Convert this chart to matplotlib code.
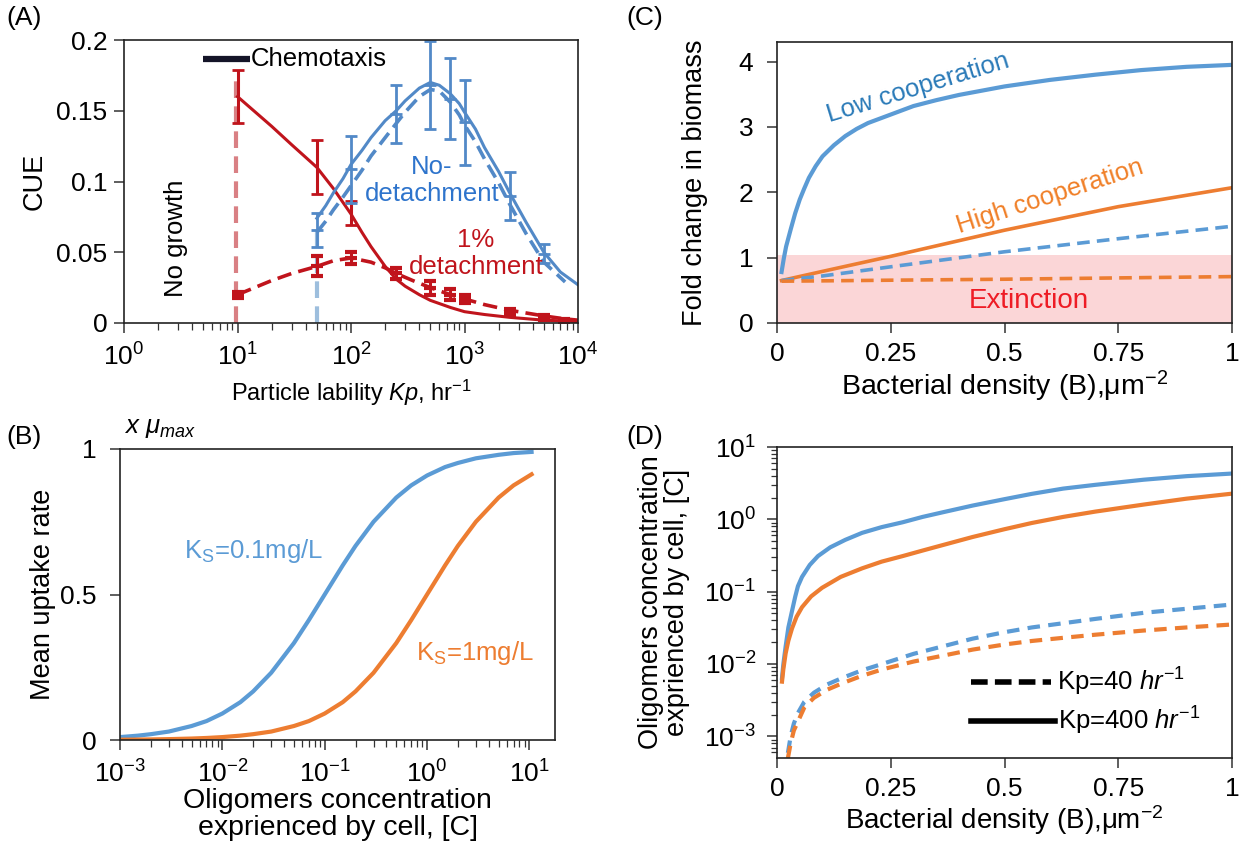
import matplotlib
matplotlib.use('Agg')
import numpy as np
import matplotlib.pyplot as plt
from matplotlib.ticker import LogLocator, NullFormatter

plt.rcParams['font.family'] = ['Liberation Sans', 'DejaVu Sans']
plt.rcParams['mathtext.fontset'] = 'custom'
plt.rcParams['mathtext.rm'] = 'Liberation Sans'
plt.rcParams['mathtext.it'] = 'Liberation Sans:italic'
plt.rcParams['mathtext.bf'] = 'Liberation Sans:bold'

# ---- panel A: CUE vs particle lability
kp_red = [10, 20, 30, 50, 70, 100, 125, 150, 200, 250, 300, 400, 500, 750, 1000, 1500, 2500, 5000, 10000]
red_solid = [0.160, 0.139, 0.126, 0.110, 0.095, 0.077, 0.064, 0.054, 0.040, 0.031, 0.026, 0.020, 0.016, 0.011,
             0.008, 0.006, 0.004, 0.002, 0.001]
kp_red_dash = [10, 20, 30, 50, 70, 100, 150, 200, 250, 350, 500, 750, 1000, 1500, 2500, 5000, 7500, 10000]
red_dash = [0.020, 0.030, 0.035, 0.040, 0.044, 0.046, 0.043, 0.039, 0.035, 0.030, 0.025, 0.020, 0.017, 0.013,
            0.009, 0.005, 0.003, 0.002]
kp_blue = [50, 60, 70, 85, 100, 125, 150, 200, 250, 300, 400, 500, 600, 750, 900, 1000, 1250, 1500, 2000, 2500,
           3500, 5000, 7000, 10000]
blue_solid = [0.074, 0.083, 0.092, 0.102, 0.112, 0.122, 0.131, 0.143, 0.150, 0.157, 0.166, 0.170, 0.168, 0.162,
              0.155, 0.149, 0.137, 0.124, 0.107, 0.092, 0.071, 0.050, 0.036, 0.027]
kp_blue_dash = [50, 60, 70, 85, 100, 125, 150, 200, 250, 300, 400, 500, 600, 750, 900, 1000, 1250, 1500, 2000,
                2500, 3500, 5000, 7700]
blue_dash = [0.064, 0.072, 0.080, 0.089, 0.097, 0.108, 0.118, 0.131, 0.141, 0.149, 0.160, 0.165, 0.164, 0.156,
             0.147, 0.140, 0.128, 0.116, 0.099, 0.084, 0.063, 0.043, 0.029]

kp_err_red = [10, 50, 100]
red_err_mid = [0.160, 0.110, 0.078]
red_err = [0.019, 0.019, 0.0085]
kp_err_red_d = [10, 50, 100, 250, 500, 750, 1000, 2500, 5000, 7500]
red_d_mid = [0.020, 0.040, 0.046, 0.035, 0.025, 0.020, 0.017, 0.008, 0.004, 0.002]
red_d_err = [0.002, 0.007, 0.004, 0.004, 0.005, 0.004, 0.003, 0.002, 0.002, 0.001]
kp_err_blue = [50, 100, 250, 500, 750, 1000, 2500, 5000]
blue_err_mid = [0.066, 0.1085, 0.1475, 0.168, 0.1585, 0.142, 0.090, 0.049]
blue_err = [0.012, 0.0235, 0.0205, 0.031, 0.0285, 0.030, 0.017, 0.0065]

# ---- panel B: uptake vs oligomer concentration
conc = [1e-3, 1.5e-3, 2e-3, 3e-3, 5e-3, 7e-3, 1e-2, 1.5e-2, 2e-2, 3e-2, 5e-2, 7e-2, 0.1, 0.15, 0.2, 0.3, 0.5,
        0.7, 1, 1.5, 2, 3, 5, 7, 10.5]
uptake_ks01 = [0.010, 0.015, 0.020, 0.029, 0.048, 0.065, 0.091, 0.130, 0.167, 0.231, 0.333, 0.412, 0.500, 0.600,
               0.667, 0.750, 0.833, 0.875, 0.909, 0.938, 0.952, 0.968, 0.980, 0.986, 0.990]
uptake_ks1 = [0.001, 0.0015, 0.002, 0.003, 0.005, 0.007, 0.010, 0.015, 0.020, 0.029, 0.048, 0.065, 0.091, 0.130,
              0.167, 0.231, 0.333, 0.412, 0.500, 0.600, 0.667, 0.750, 0.833, 0.875, 0.913]

# ---- panel C: fold change in biomass
dens_low = [0.01, 0.015, 0.02, 0.03, 0.04, 0.05, 0.06, 0.07, 0.085, 0.1, 0.125, 0.15, 0.175, 0.2, 0.25, 0.3,
            0.35, 0.4, 0.5, 0.6, 0.7, 0.8, 0.9, 1.0]
low_coop = [0.78, 0.99, 1.17, 1.43, 1.68, 1.89, 2.06, 2.22, 2.40, 2.55, 2.72, 2.86, 2.97, 3.06, 3.19, 3.32, 3.41,
            3.49, 3.62, 3.72, 3.80, 3.87, 3.92, 3.95]
dens_c = [0.01, 0.1, 0.25, 0.5, 0.75, 1.0]
high_coop = [0.65, 0.79, 1.02, 1.42, 1.78, 2.07]
low_coop_dash = [0.65, 0.72, 0.86, 1.09, 1.29, 1.48]
high_coop_dash = [0.64, 0.645, 0.655, 0.67, 0.69, 0.71]

# ---- panel D: oligomer concentration vs density
dens_d_blue = [0.011, 0.014, 0.019, 0.025, 0.033, 0.04, 0.046, 0.055, 0.072, 0.09, 0.117, 0.15, 0.187, 0.23,
               0.276, 0.32, 0.364, 0.43, 0.5, 0.56, 0.629, 0.7, 0.806, 0.9, 0.996]
conc_blue_400 = [0.0064, 0.010, 0.0175, 0.032, 0.054, 0.085, 0.119, 0.16, 0.234, 0.31, 0.41, 0.52, 0.65, 0.78,
                 0.91, 1.08, 1.25, 1.55, 1.90, 2.25, 2.66, 3.0, 3.53, 3.95, 4.28]
dens_d_orange = [0.011, 0.014, 0.019, 0.025, 0.033, 0.043, 0.055, 0.075, 0.099, 0.14, 0.187, 0.23, 0.276, 0.32,
                 0.364, 0.43, 0.5, 0.56, 0.629, 0.7, 0.806, 0.9, 0.996]
conc_orange_400 = [0.0057, 0.0085, 0.014, 0.021, 0.031, 0.045, 0.061, 0.086, 0.113, 0.16, 0.21, 0.26, 0.31, 0.37,
                   0.44, 0.57, 0.73, 0.89, 1.08, 1.28, 1.60, 1.93, 2.25]
dens_d_dash = [0.024, 0.03, 0.037, 0.046, 0.06, 0.081, 0.11, 0.143, 0.185, 0.231, 0.3, 0.364, 0.43, 0.5, 0.56,
               0.629, 0.7, 0.806, 0.9, 0.996]
conc_blue_40 = [0.00059, 0.0010, 0.0015, 0.0021, 0.0030, 0.0040, 0.0052, 0.0064, 0.0081, 0.010, 0.0138, 0.0175,
                0.0224, 0.0275, 0.032, 0.0366, 0.042, 0.051, 0.058, 0.066]
conc_orange_40 = [0.0005, 0.0008, 0.0012, 0.0016, 0.0025, 0.0034, 0.0044, 0.0054, 0.0068, 0.0084, 0.0108, 0.013,
                  0.0158, 0.0186, 0.0208, 0.023, 0.0254, 0.029, 0.032, 0.035]

BLUE = '#5B9BD5'
ORANGE = '#ED7D31'
A_BLUE = '#5289C7'
A_RED = '#C0141C'
TFS = 19   # tick labels
LFS = 19.5  # axis labels
TXT = 18.5  # annotations

W, H = 1254, 841
fig = plt.figure(figsize=(W / 100, H / 100), dpi=100)


def box(l, t, r, b):
    ax = fig.add_axes([l / W, 1 - b / H, (r - l) / W, (b - t) / H])
    for s in ax.spines.values():
        s.set_linewidth(1.2)
        s.set_color('#222222')
    ax.tick_params(direction='out', labelsize=TFS, length=7, width=1.1, pad=5, color='#333333')
    ax.tick_params(which='minor', direction='out', length=5, width=0.9, color='#333333')
    return ax


def log_ticks(axis):
    axis.set_major_locator(LogLocator(base=10, numticks=10))
    axis.set_minor_locator(LogLocator(base=10, subs=np.arange(2, 10), numticks=20))
    axis.set_minor_formatter(NullFormatter())


# ================= (A)
axA = box(124, 40, 578, 323)
axA.set_xscale('log')
axA.plot([9.7, 9.7], [0, 0.174], color='#D98084', lw=3, dashes=(4, 2))
axA.plot([50, 50], [0, 0.068], color='#9DBEDD', lw=3, dashes=(4, 2))
axA.plot(kp_red, red_solid, color=A_RED, lw=2.2)
axA.plot(kp_red_dash, red_dash, color=A_RED, lw=2.6, dashes=(4, 2))
axA.plot(kp_blue, blue_solid, color=A_BLUE, lw=2.2)
axA.plot(kp_blue_dash, blue_dash, color=A_BLUE, lw=2.6, dashes=(4, 2))
axA.errorbar(kp_err_red, red_err_mid, yerr=red_err, fmt='none', ecolor=A_RED,
             elinewidth=2.2, capsize=4, capthick=2)
axA.errorbar(kp_err_red_d, red_d_mid, yerr=red_d_err, fmt='_', color=A_RED, ms=8, mew=3,
             ecolor=A_RED, elinewidth=2.2, capsize=4, capthick=2)
axA.errorbar(kp_err_blue, blue_err_mid, yerr=blue_err, fmt='_', color=A_BLUE, ms=8, mew=2,
             ecolor=A_BLUE, elinewidth=2, capsize=4, capthick=2)
axA.plot([5, 13], [0.1866, 0.1866], color='#141428', lw=4.5, solid_capstyle='butt')
axA.text(13, 0.1866, 'Chemotaxis', fontsize=TXT, ha='left', va='center')
axA.text(2.9, 0.060, 'No growth', fontsize=TXT, rotation=90, ha='center', va='center')
axA.text(517, 0.101, 'No-\ndetachment', fontsize=TXT, color='#2E74CC', ha='center', va='center',
         linespacing=1.15)
axA.text(1260, 0.049, '1%\ndetachment', fontsize=TXT, color=A_RED, ha='center', va='center',
         linespacing=1.15)
axA.set_xlim(1, 1e4)
axA.set_ylim(0, 0.2)
axA.set_yticks([0, 0.05, 0.1, 0.15, 0.2])
axA.set_yticklabels(['0', '0.05', '0.1', '0.15', '0.2'])
log_ticks(axA.xaxis)
axA.tick_params(axis='x', pad=8)
axA.set_xlabel(r'Particle lability $Kp$, hr$^{-1}$', fontsize=17, labelpad=5)
axA.set_ylabel('CUE', fontsize=LFS, labelpad=6)

# ================= (B)
axB = box(120, 449, 555, 740)
axB.set_xscale('log')
axB.plot(conc, uptake_ks01, color=BLUE, lw=3)
axB.plot(conc, uptake_ks1, color=ORANGE, lw=3)
axB.text(10 ** -2.375, 0.648, r'K$_{\rm S}$=0.1mg/L', color=BLUE, fontsize=TXT, ha='left', va='center')
axB.text(10 ** -0.109, 0.30, r'K$_{\rm S}$=1mg/L', color=ORANGE, fontsize=TXT, ha='left', va='center')
axB.text(0.01, 1.03, r'$x\ \mu_{max}$', transform=axB.transAxes, fontsize=TXT, ha='left', va='bottom')
axB.set_xlim(1e-3, 10 ** 1.25)
axB.set_ylim(0, 1)
axB.set_yticks([0, 0.5, 1])
axB.set_yticklabels(['0', '0.5', '1'])
log_ticks(axB.xaxis)
axB.tick_params(axis='x', pad=8)
axB.tick_params(axis='y', pad=10)
axB.set_xlabel('Oligomers concentration\nexprienced by cell, [C]', fontsize=20.5, linespacing=1.05, labelpad=0)
axB.set_ylabel('Mean uptake rate', fontsize=LFS, labelpad=3)

# ================= (C)
axC = box(777, 42, 1232, 323)
axC.axhspan(0, 1.04, color='#FBD6D7', lw=0, zorder=0)
axC.plot(dens_low, low_coop, color=BLUE, lw=3)
axC.plot(dens_c, high_coop, color=ORANGE, lw=2.6)
axC.plot(dens_c, low_coop_dash, color=BLUE, lw=2.6, dashes=(3.5, 2))
axC.plot(dens_c, high_coop_dash, color=ORANGE, lw=2.6, dashes=(3.5, 2))
axC.text(0.31, 3.6, 'Low cooperation', color='#2A7AB8', fontsize=TXT, rotation=17, ha='center', va='center')
axC.text(0.60, 1.94, 'High cooperation', color='#F07E26', fontsize=TXT, rotation=18, ha='center', va='center')
axC.text(0.553, 0.33, 'Extinction', color='#EE1C25', fontsize=20, ha='center', va='center')
axC.set_xlim(0, 1)
axC.set_ylim(0, 4.3)
axC.set_xticks([0, 0.25, 0.5, 0.75, 1])
axC.set_xticklabels(['0', '0.25', '0.5', '0.75', '1'])
axC.set_yticks([0, 1, 2, 3, 4])
axC.tick_params(axis='x', pad=7)
axC.tick_params(axis='y', pad=10)
axC.set_xlabel(r'Bacterial density (B),μm$^{-2}$', fontsize=20.5, labelpad=2)
axC.set_ylabel('Fold change in biomass', fontsize=LFS, labelpad=22)

# ================= (D)
axD = box(777, 447, 1232, 758)
axD.set_yscale('log')
axD.plot(dens_d_blue, conc_blue_400, color=BLUE, lw=3)
axD.plot(dens_d_orange, conc_orange_400, color=ORANGE, lw=3)
axD.plot(dens_d_dash, conc_blue_40, color=BLUE, lw=3, dashes=(3, 2))
axD.plot(dens_d_dash, conc_orange_40, color=ORANGE, lw=3, dashes=(3, 2))
axD.plot([0.426, 0.603], [0.245, 0.245], transform=axD.transAxes, color='black', lw=4, dashes=(3, 1.3))
axD.plot([0.426, 0.612], [0.12, 0.12], transform=axD.transAxes, color='black', lw=4)
axD.text(0.615, 0.245, r'Kp=40 $hr^{-1}$', transform=axD.transAxes, fontsize=TXT, ha='left', va='center')
axD.text(0.617, 0.12, r'Kp=400 $hr^{-1}$', transform=axD.transAxes, fontsize=TXT, ha='left', va='center')
axD.set_xlim(0, 1)
axD.set_ylim(10 ** -3.3, 10)
axD.set_xticks([0, 0.25, 0.5, 0.75, 1])
axD.set_xticklabels(['0', '0.25', '0.5', '0.75', '1'])
log_ticks(axD.yaxis)
axD.tick_params(axis='y', which='minor', length=4)
axD.tick_params(axis='y', pad=8)
axD.tick_params(axis='x', pad=7)
axD.set_xlabel(r'Bacterial density (B),μm$^{-2}$', fontsize=20, labelpad=1)
axD.set_ylabel('Oligomers concentration\nexprienced by cell, [C]', fontsize=LFS, linespacing=1.0, labelpad=10)

# panel letters
for lbl, px, py in [('(A)', 6, 18), ('(B)', 6, 437), ('(C)', 626, 18), ('(D)', 626, 437)]:
    fig.text(px / W, 1 - py / H, lbl, fontsize=19, ha='left', va='center')

fig.savefig('out.png', dpi=100)
